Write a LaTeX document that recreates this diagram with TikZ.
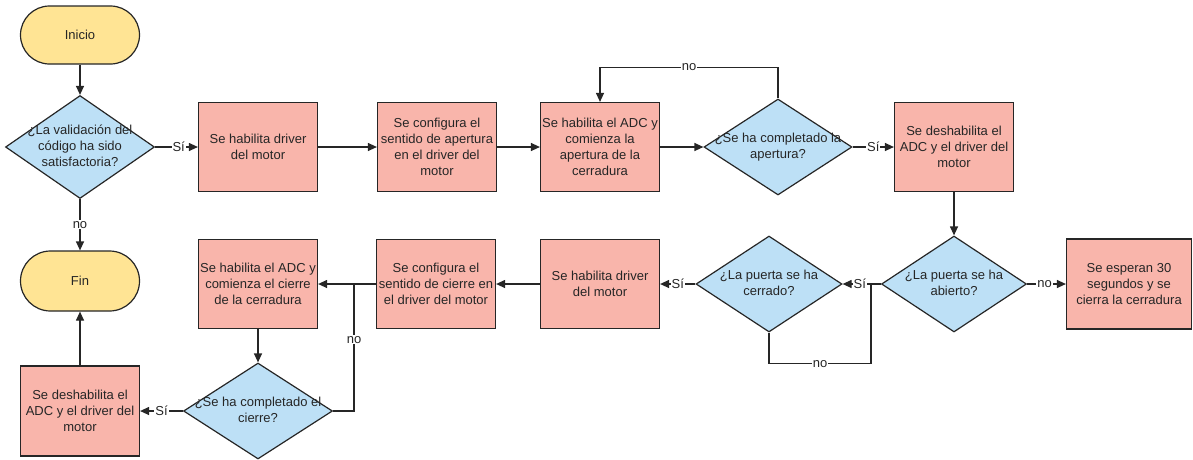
\documentclass[tikz,border=0pt]{standalone}
\usepackage{fontspec}
\setmainfont{Liberation Sans}
\usetikzlibrary{shapes.geometric,arrows.meta}
\definecolor{termfill}{HTML}{FFE494}
\definecolor{boxfill}{HTML}{F9B5AB}
\definecolor{askfill}{HTML}{BDE0F6}
\definecolor{ink}{HTML}{262626}
% text of a diamond, kept out of the shape size
\newcommand{\qtext}[1]{\makebox[0pt]{\raisebox{-0.5ex}[0pt][0pt]{\begin{tabular}{@{}c@{}}#1\end{tabular}}}}

\begin{document}
\begin{tikzpicture}[x=1pt,y=-1pt,
	every node/.style={font=\fontsize{13}{16}\selectfont, text=ink},
	terminal/.style={draw=ink, line width=1.2pt, fill=termfill, rectangle, rounded corners=29pt, minimum width=119pt, minimum height=58pt},
	process/.style={draw=ink, line width=1.2pt, fill=boxfill, rectangle, align=center, inner sep=0pt, minimum width=119pt, minimum height=89pt},
	decision/.style={draw=ink, line width=1.2pt, fill=askfill, diamond, inner sep=0pt, minimum width=148pt, minimum height=96pt},
	flow/.style={draw=ink, line width=1.2pt},
	arr/.style={flow, -{Triangle[length=9pt,width=8pt]}},
	lbl/.style={fill=white, inner sep=1pt}]
	\useasboundingbox (0,0) rectangle (1193,459);

	% apertura
	\node[terminal] (inicio) at (80,35) {Inicio};
	\node[decision, minimum width=149pt, minimum height=103pt] (valida) at (80,147) {\qtext{¿La validación del\\código ha sido\\satisfactoria?}};
	\node[process] (habA) at (258,147) {Se habilita driver\\del motor};
	\node[process] (confA) at (437,147) {Se configura el\\sentido de apertura\\en el driver del\\motor};
	\node[process] (adcA) at (600,147) {Se habilita el ADC y\\comienza la\\apertura de la\\cerradura};
	\node[decision] (compA) at (778,147) {\qtext{¿Se ha completado la\\apertura?}};
	\node[process] (deshA) at (954,147) {Se deshabilita el\\ADC y el driver del\\motor};

	% cierre
	\node[decision, minimum width=145pt] (abierto) at (954,284) {\qtext{¿La puerta se ha\\abierto?}};
	\node[process, minimum width=125pt, minimum height=90pt] (espera) at (1129,284) {Se esperan 30\\segundos y se\\cierra la cerradura};
	\node[decision, minimum width=146pt] (cerrado) at (769,284) {\qtext{¿La puerta se ha\\cerrado?}};
	\node[process] (habC) at (600,284) {Se habilita driver\\del motor};
	\node[process] (confC) at (436,284) {Se configura el\\sentido de cierre en\\el driver del motor};
	\node[process] (adcC) at (258,284) {Se habilita el ADC y\\comienza el cierre\\de la cerradura};
	\node[decision, minimum width=149pt] (compC) at (258,411) {\qtext{¿Se ha completado el\\cierre?}};
	\node[process, minimum height=90pt] (deshC) at (80,411) {Se deshabilita el\\ADC y el driver del\\motor};
	\node[terminal, minimum height=60pt, rounded corners=30pt] (fin) at (80,281) {Fin};

	\coordinate (unionA) at (871,284);
	\coordinate (unionC) at (354,284);

	\draw[arr] (inicio) -- (valida);
	\draw[arr] (valida) -- node[lbl, pos=0.55] {Sí} (habA);
	\draw[arr] (habA) -- (confA);
	\draw[arr] (confA) -- (adcA);
	\draw[arr] (adcA) -- (compA);
	\draw[arr] (compA.north) -- ++(0,-31) -| node[lbl, pos=0.25] {no} (adcA.north);
	\draw[arr] (compA) -- node[lbl] {Sí} (deshA);
	\draw[arr] (deshA) -- (abierto);
	\draw[arr] (abierto) -- node[lbl, pos=0.45] {no} (espera);
	\draw[arr] (abierto) -- node[lbl, pos=0.55] {Sí} (cerrado);
	\draw[flow] (cerrado.south) -- ++(0,31) -| node[lbl, pos=0.25] {no} (unionA);
	\draw[arr] (cerrado) -- node[lbl] {Sí} (habC);
	\draw[arr] (habC) -- (confC);
	\draw[arr] (confC) -- (adcC);
	\draw[arr] (adcC) -- (compC);
	\draw[flow] (compC.east) -| node[lbl, pos=0.78] {no} (unionC);
	\draw[arr] (compC) -- node[lbl] {Sí} (deshC);
	\draw[arr] (deshC) -- (fin);
	\draw[arr] (valida) -- node[lbl] {no} (fin);
\end{tikzpicture}
\end{document}
